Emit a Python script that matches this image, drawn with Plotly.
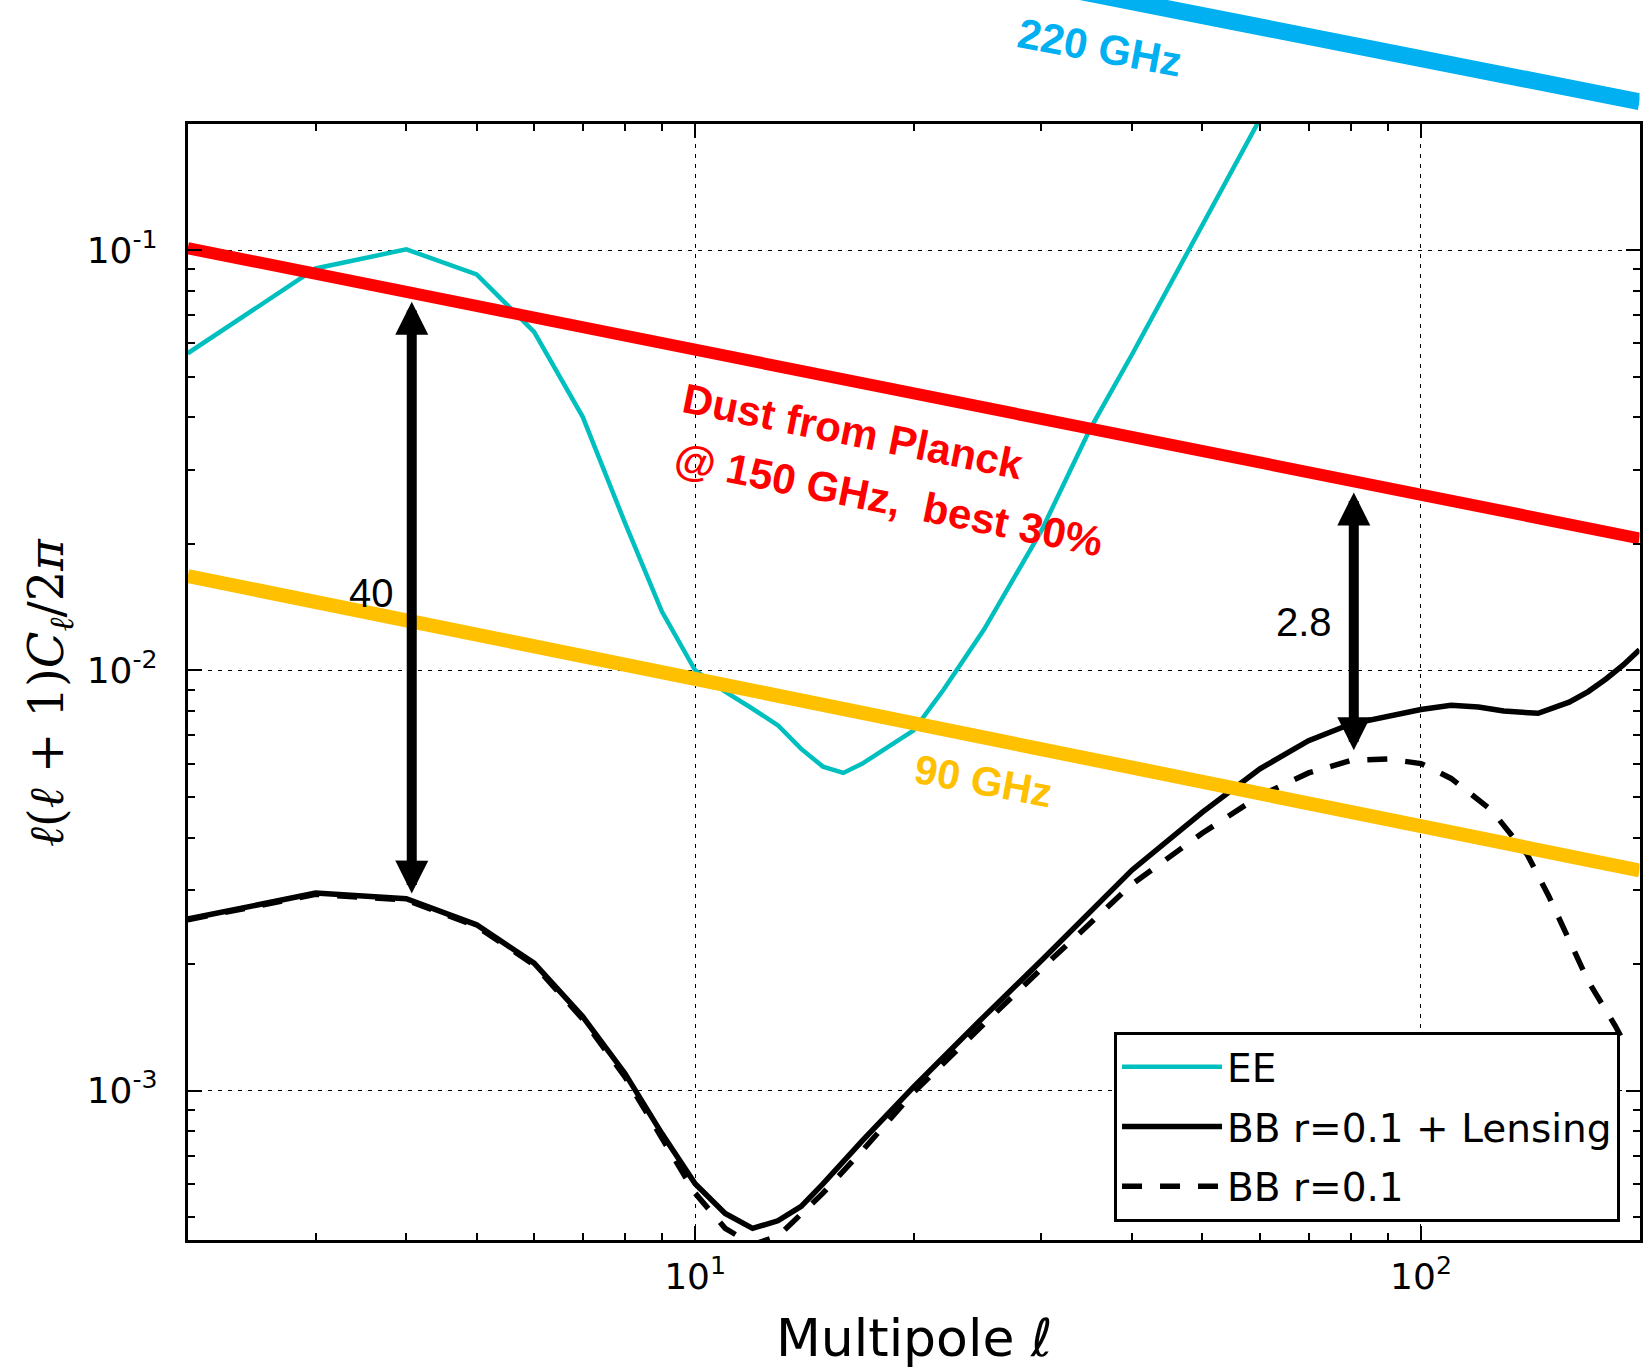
import numpy as np
import plotly.graph_objects as go

# ---- angular power spectra, D_ell = ell(ell+1)C_ell/2pi ----
ee_ell = [2, 3, 4, 5, 6, 7, 8, 9, 10, 11, 12, 13, 14, 15, 16, 17, 18, 19, 20,
          22, 25, 30, 35, 40, 50, 60, 70]
ee_dl = [0.0568, 0.0904, 0.1004, 0.0875, 0.0639, 0.0401, 0.0225, 0.0138, 0.0100,
         0.0089, 0.0081, 0.0074, 0.0065, 0.0059, 0.0057, 0.0060, 0.0064, 0.0068,
         0.0072, 0.0090, 0.0125, 0.0215, 0.0375, 0.0565, 0.114, 0.205, 0.34]

bb_lens_ell = [2, 3, 4, 5, 6, 7, 8, 9, 10, 11, 12, 13, 14, 15, 17, 20, 25, 30, 40,
               50, 60, 70, 80, 90, 100, 110, 120, 130, 145, 160, 170, 180, 190, 200]
bb_lens_dl = [0.00256, 0.00295, 0.00286, 0.00248, 0.00201, 0.00150, 0.00110,
              0.00079, 0.00060, 0.00051, 0.00047, 0.00049, 0.00053, 0.00060,
              0.00076, 0.00102, 0.00150, 0.00204, 0.00335, 0.00460, 0.00583,
              0.00680, 0.00745, 0.00780, 0.00807, 0.00826, 0.00818, 0.00800,
              0.00790, 0.00840, 0.00890, 0.00955, 0.0103, 0.0112]

bb_tens_ell = [2, 3, 4, 5, 6, 7, 8, 9, 10, 11, 12, 13, 14, 15, 17, 20, 25, 30, 40,
               50, 60, 70, 80, 90, 100, 110, 125, 140, 150, 160, 170, 185, 191]
bb_tens_dl = [0.00255, 0.00293, 0.00284, 0.00246, 0.00199, 0.00148, 0.00108,
              0.00077, 0.00057, 0.00047, 0.00043, 0.00045, 0.00051, 0.00057,
              0.00072, 0.00099, 0.00144, 0.00195, 0.00310, 0.00410, 0.00503,
              0.00570, 0.00610, 0.00615, 0.00600, 0.00553, 0.00465, 0.00365,
              0.00290, 0.00230, 0.00182, 0.00143, 0.00129]

# ---- dust power-law levels ----
dust_ell = [2, 200]
dust150_dl = [0.101, 0.0206]
dust90_dl = [0.01676, 0.00334]
dust220_ell = [30, 200]
dust220_dl = [0.43, 0.2254]

# ---- axes ----
ell_lim = [2, 200]
dl_lim = [4.41e-4, 0.1995]
xtick_vals = [10, 100]
xtick_text = ["10<sup>1</sup>", "10<sup>2</sup>"]
ytick_vals = [1e-3, 1e-2, 1e-1]
ytick_text = ["10<sup>-3</sup>", "10<sup>-2</sup>", "10<sup>-1</sup>"]

W, H = 1643, 1368
box_l, box_r, box_t, box_b = 188, 1641.5, 124, 1240
x_dom = [box_l / W, box_r / W]
y_dom = [(H - box_b) / H, (H - box_t) / H]

y_rng = [np.log10(dl_lim[0]), np.log10(dl_lim[1])]
px_per_dec = (box_b - box_t) / (y_rng[1] - y_rng[0])
y2_rng = [y_rng[1], y_rng[1] + box_t / px_per_dec]
x_rng = [np.log10(ell_lim[0]), np.log10(ell_lim[1])]

TEAL = "#00BFBF"
RED = "#FF0000"
GOLD = "#FFC000"
SKY = "#00B0F0"

fig = go.Figure()

fig.add_trace(go.Scatter(x=ee_ell, y=ee_dl, mode="lines", name="EE",
                         legendgroup="ee",
                         line=dict(color=TEAL, width=4.5)))
fig.add_trace(go.Scatter(x=bb_lens_ell, y=bb_lens_dl, mode="lines",
                         name="BB r=0.1 + Lensing", legendgroup="bbl",
                         line=dict(color="black", width=5.5)))
fig.add_trace(go.Scatter(x=bb_tens_ell, y=bb_tens_dl, mode="lines",
                         name="BB r=0.1", legendgroup="bbt",
                         line=dict(color="black", width=5.5, dash="20px,18px")))
fig.add_trace(go.Scatter(x=dust_ell, y=dust90_dl, mode="lines", showlegend=False,
                         line=dict(color=GOLD, width=14)))
fig.add_trace(go.Scatter(x=dust_ell, y=dust150_dl, mode="lines", showlegend=False,
                         line=dict(color=RED, width=12)))
fig.add_trace(go.Scatter(x=dust220_ell, y=dust220_dl, mode="lines", showlegend=False,
                         xaxis="x2", yaxis="y2",
                         line=dict(color=SKY, width=17)))

TICKFONT = dict(family="DejaVu Sans", size=36, color="black")
axis_common = dict(
    type="log", showline=True, linecolor="black", linewidth=3, mirror="allticks",
    ticks="inside", ticklen=14, tickwidth=1.5, tickcolor="black",
    tickmode="array", tickfont=TICKFONT,
    showgrid=True, gridcolor="black", gridwidth=1.2, griddash="4px,6px",
    zeroline=False,
    minor=dict(ticks="inside", ticklen=7, tickwidth=1.5, tickcolor="black",
               dtick="D1", showgrid=False),
)

fig.update_layout(
    width=W, height=H,
    margin=dict(l=0, r=0, t=0, b=0),
    paper_bgcolor="white", plot_bgcolor="white",
    xaxis=dict(axis_common, domain=x_dom, range=x_rng, anchor="y",
               tickvals=xtick_vals, ticktext=xtick_text, ticklabelstandoff=3),
    yaxis=dict(axis_common, domain=y_dom, range=y_rng, anchor="x",
               tickvals=ytick_vals, ticktext=ytick_text, ticklabelstandoff=20),
    xaxis2=dict(type="log", domain=x_dom, range=x_rng, anchor="y2", visible=False),
    yaxis2=dict(type="log", domain=[y_dom[1], 1], range=y2_rng, anchor="x2",
                visible=False),
    legend=dict(x=1622 / W, y=(H - 1222) / H, xanchor="right", yanchor="bottom",
                bgcolor="white", bordercolor="black", borderwidth=3,
                font=dict(family="DejaVu Sans", size=39, color="black"),
                tracegroupgap=6, itemwidth=100),
)

L = np.log10
ann = []

# double-headed arrows marking the dust / BB gap
for ell, lo, hi in [(4.07, 0.002918, 0.0753), (80.8, 0.0064, 0.0265)]:
    ann.append(dict(x=L(ell), y=L(hi), ax=L(ell), ay=L(lo), xref="x", yref="y",
                    axref="x", ayref="y", text="", showarrow=True,
                    arrowhead=2, startarrowhead=2, arrowside="end+start",
                    arrowwidth=10, arrowsize=0.66, startarrowsize=0.66,
                    standoff=0, startstandoff=0, arrowcolor="black"))

LABEL = dict(family="Liberation Sans", size=40, color="black")
ann.append(dict(x=L(3.58), y=L(0.01531), xref="x", yref="y", text="40",
                showarrow=False, font=LABEL))
ann.append(dict(x=L(69.1), y=L(0.01302), xref="x", yref="y", text="2.8",
                showarrow=False, font=LABEL))

ann.append(dict(x=L(16.5), y=L(0.03705), xref="x", yref="y",
                text="<b>Dust from Planck</b>", showarrow=False, textangle=11.3,
                font=dict(family="Liberation Sans", size=42, color=RED)))
ann.append(dict(x=L(18.45), y=L(0.02547), xref="x", yref="y",
                text="<b>@ 150 GHz,\u00a0 best 30%</b>", showarrow=False,
                textangle=11.3,
                font=dict(family="Liberation Sans", size=42, color=RED)))
ann.append(dict(x=L(24.94), y=L(0.005453), xref="x", yref="y",
                text="<b>90 GHz</b>", showarrow=False, textangle=10.5,
                font=dict(family="Liberation Sans", size=41, color=GOLD)))
ann.append(dict(x=L(36.1), y=L(0.3031), xref="x2", yref="y2",
                text="<b>220 GHz</b>", showarrow=False, textangle=10.5,
                font=dict(family="Liberation Sans", size=42, color=SKY)))

# axis titles
ann.append(dict(x=(box_l + box_r) / 2 / W, y=(H - 1338) / H, xref="paper",
                yref="paper", xanchor="center", yanchor="middle",
                text="Multipole <i>ℓ</i>", showarrow=False,
                font=dict(family="DejaVu Sans", size=52, color="black")))
ann.append(dict(x=50 / W, y=(H - 692) / H, xref="paper", yref="paper",
                xanchor="center", yanchor="middle",
                text="<i>ℓ</i>(<i>ℓ</i> + 1)<i>C</i><sub><i>ℓ</i></sub>/2<i>π</i>",
                showarrow=False, textangle=-90,
                font=dict(family="DejaVu Serif", size=48, color="black")))

fig.update_layout(annotations=ann)
fig.write_html("out.html")
